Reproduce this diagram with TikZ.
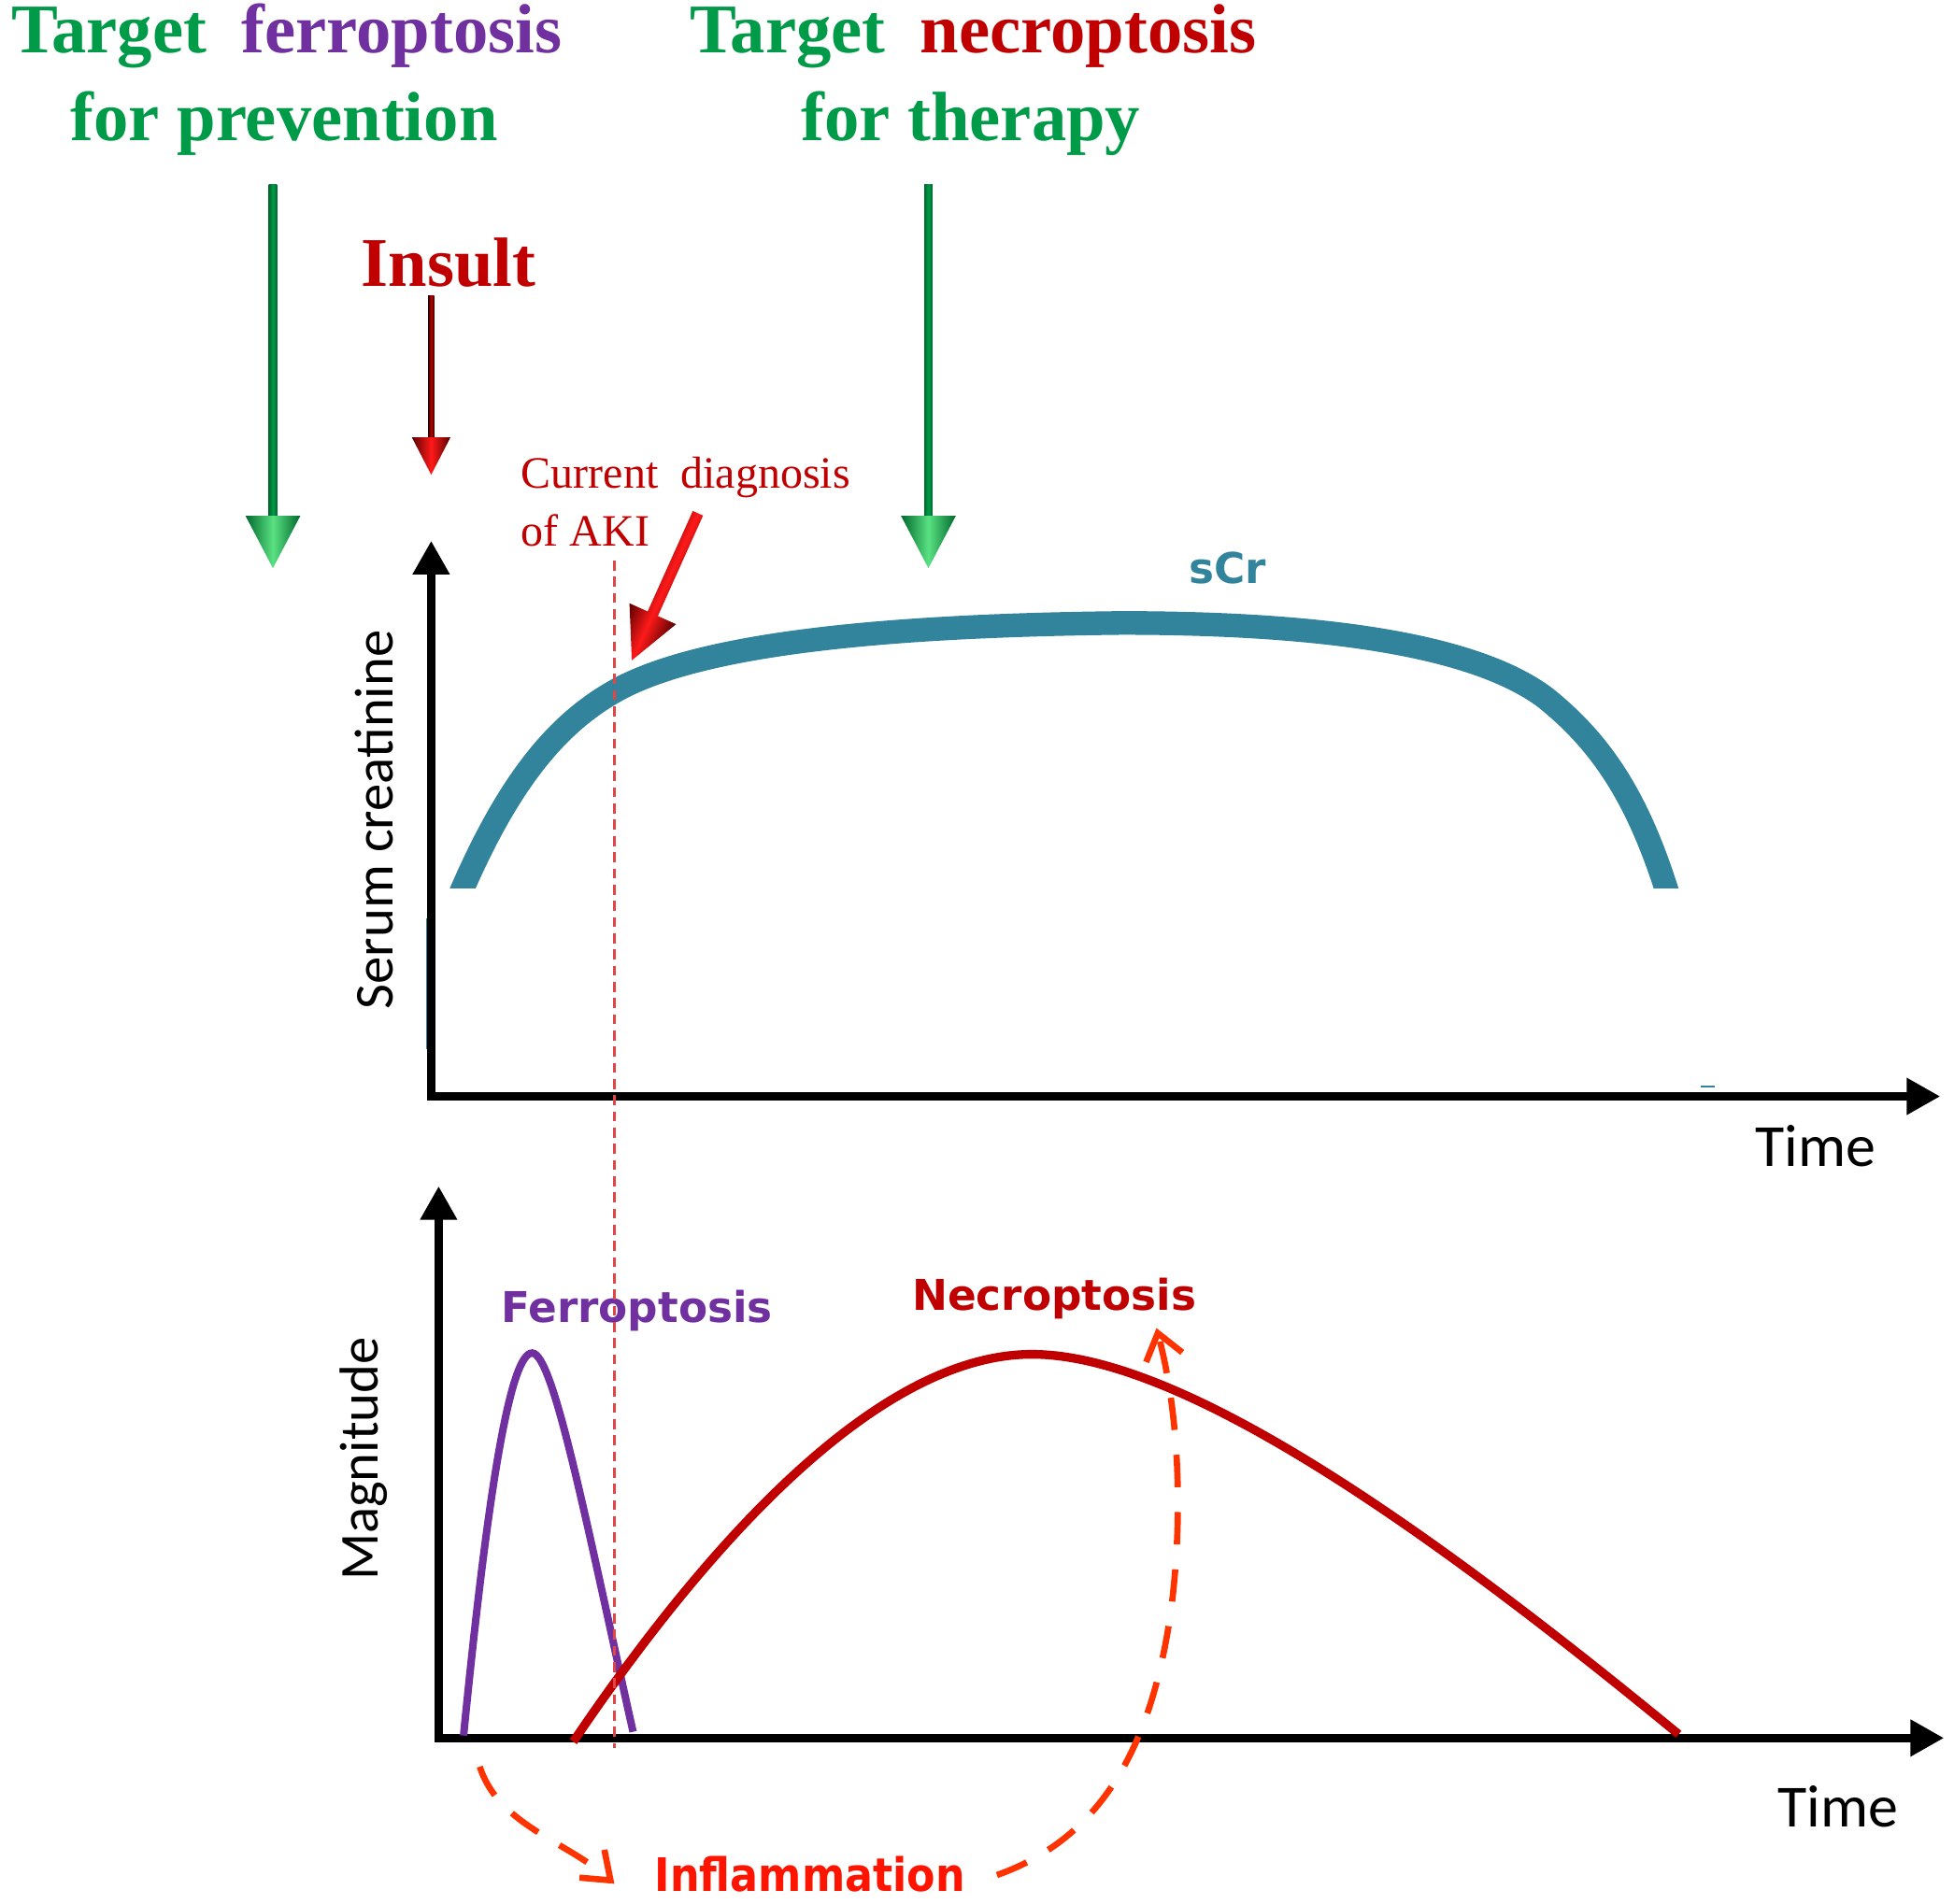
\documentclass[tikz,border=0pt]{standalone}
\usepackage{fontspec}
\setmainfont{Liberation Serif}
\newfontfamily\calib{Carlito}
\newfontfamily\dejavu{DejaVu Sans}
\usetikzlibrary{arrows.meta,calc}
\definecolor{tgreen}{RGB}{0,155,72}
\definecolor{tpurple}{RGB}{112,48,160}
\definecolor{tred}{RGB}{192,0,0}
\definecolor{tealc}{RGB}{49,132,155}
\definecolor{inflam}{RGB}{255,51,0}
\definecolor{inflamtxt}{RGB}{255,20,0}
\definecolor{dgreen}{RGB}{0,105,45}
\definecolor{lgreen}{RGB}{90,225,130}
\definecolor{dline}{RGB}{225,70,70}
\begin{document}
\begin{tikzpicture}[x=0.5pt,y=-0.5pt,
  ttl/.style={font=\fontsize{28}{30}\selectfont\bfseries, inner sep=0pt, anchor=base},
  axislabel/.style={font=\calib\fontsize{22}{24}\selectfont, inner sep=0pt},
  curvelabel/.style={font=\dejavu\bfseries\fontsize{17}{19}\selectfont, inner sep=0pt},
  axisline/.style={line width=3.5pt, line join=miter,
    {Triangle[length=13.5pt,width=14pt]}-{Triangle[length=13.5pt,width=14pt]}},
  inflarrow/.style={draw=inflam, line width=2.5pt, dash pattern=on 13pt off 10pt,
    -{Straight Barb[length=10pt,width=15pt]}},
  dvline/.style={draw=dline, line width=0.9pt, dash pattern=on 4pt off 2.5pt},
  gshade/.style={left color=dgreen, right color=dgreen, middle color=lgreen},
  gshaft/.style={left color=dgreen, right color=dgreen, middle color=tgreen},
  rshade/.style={left color=black!55!tred, right color=black!55!tred, middle color=red!90!white}
]
\useasboundingbox (0,0) rectangle (1568,1528);
\fill[white] (0,0) rectangle (1568,1528);

% ---- titles ----
\node[ttl, text=tgreen] (t1) at (230,42) {Target~~\textcolor{tpurple}{ferroptosis}};
\node[ttl, text=tgreen] (t2) at (228,113) {for prevention};
\node[ttl, text=tgreen] (t3) at (781,42) {Target~~\textcolor{tred}{necroptosis}};
\node[ttl, text=tgreen] (t4) at (779,113) {for therapy};
\node[ttl, text=tred] (insult) at (360,230) {Insult};
\node[font=\fontsize{18}{20}\selectfont, text=tred, anchor=base west, inner sep=0pt] (cd1) at (418,392) {Current~~diagnosis};
\node[font=\fontsize{18}{20}\selectfont, text=tred, anchor=base west, inner sep=0pt] (cd2) at (418,438) {of AKI};

% ---- green arrows ----
\coordinate (g1s) at (219,148);
\coordinate (g1b) at (219,414);
\coordinate (g1t) at (219,456);
\shade[gshaft] ($(g1s)+(-3.3,0)$) rectangle ($(g1b)+(3.3,2)$);
\shade[gshade] ($(g1b)+(-22,0)$) -- ($(g1b)+(22,0)$) -- (g1t) -- cycle;
\coordinate (g2s) at (745,148);
\coordinate (g2b) at (745,414);
\coordinate (g2t) at (745,456);
\shade[gshaft] ($(g2s)+(-3.3,0)$) rectangle ($(g2b)+(3.3,2)$);
\shade[gshade] ($(g2b)+(-22,0)$) -- ($(g2b)+(22,0)$) -- (g2t) -- cycle;

% ---- insult arrow ----
\coordinate (ins) at (346,237);
\coordinate (inb) at (346,351);
\coordinate (int) at (346,381);
\shade[left color=black!80!tred, right color=black!80!tred, middle color=tred] ($(ins)+(-2.5,0)$) rectangle ($(inb)+(2.5,2)$);
\shade[rshade] ($(inb)+(-15.5,0)$) -- ($(inb)+(15.5,0)$) -- (int) -- cycle;

% ---- diagnosis arrow (tail ra1 -> tip ra2) ----
\coordinate (ra1) at (560,412);
\coordinate (ra2) at (507,530);
\begin{scope}[transform canvas={shift={(ra2)}, rotate=-24.2}]
\shade[rshade] (-4.5,-129.4) -- (-4.5,-41) -- (-20.5,-41) -- (0,0) -- (20.5,-41) -- (4.5,-41) -- (4.5,-129.4) -- cycle;
\end{scope}

% ---- top plot ----
\coordinate (o1) at (346,880);
\coordinate (y1) at (346,434);
\coordinate (x1) at (1557,880);
\draw[tealc, line width=2pt] (344,737) -- (344,842);
\draw[tealc, line width=1pt] (1365,872) -- (1376,872);
\draw[axisline] (y1) -- (o1) -- (x1);
\begin{scope}
\clip (300,380) rectangle (1450,713);
\draw[tealc, line width=9.5pt] (360,740) .. controls (400,640) and (440,585) .. (493,555)
  .. controls (563,515) and (720,502) .. (900,500)
  .. controls (1050,500) and (1180,515) .. (1240,560)
  .. controls (1290,600) and (1320,650) .. (1345,740);
\end{scope}
\node[curvelabel, text=tealc] (scr) at (985,456) {sCr};
\node[axislabel, rotate=90] (ylab1) at (300,658) {Serum creatinine};
\node[axislabel, font=\calib\fontsize{24}{26}\selectfont] (time1) at (1457,920) {Time};

% ---- bottom plot ----
\coordinate (o2) at (352,1395);
\coordinate (y2) at (352,952);
\coordinate (x2) at (1560,1395);
\draw[axisline] (y2) -- (o2) -- (x2);
\draw[tpurple, line width=3pt] (372,1393) .. controls (392,1190) and (410,1086) .. (427,1086)
  .. controls (444,1086) and (470,1220) .. (508,1390);
\draw[tred, line width=3.5pt] (460,1398) .. controls (560,1250) and (700,1087) .. (828,1087)
  .. controls (950,1087) and (1150,1230) .. (1347,1392);
\node[curvelabel, text=tpurple] (ferro) at (511,1052) {Ferroptosis};
\node[curvelabel, text=tred] (necro) at (846,1042) {Necroptosis};
\node[axislabel, rotate=90] (ylab2) at (292,1171) {Magnitude};
\node[axislabel, font=\calib\fontsize{24}{26}\selectfont] (time2) at (1475,1450) {Time};

% ---- inflammation ----
\node[font=\dejavu\bfseries\fontsize{18.5}{20}\selectfont, xscale=0.9, text=inflamtxt, inner sep=0pt] (infl) at (650,1504) {Inflammation};
\coordinate (i1s) at (385,1418);
\coordinate (i1e) at (493,1512);
\draw[inflarrow] (i1s) .. controls (400,1465) and (455,1478) .. (i1e);
\coordinate (i2s) at (800,1505);
\coordinate (i2e) at (928,1066);
\draw[inflarrow] (i2s) .. controls (885,1475) and (925,1400) .. (940,1290)
  .. controls (950,1210) and (945,1130) .. (i2e);

% ---- dashed diagnosis line ----
\coordinate (dtop) at (493,450);
\coordinate (dbot) at (493,1403);
\draw[dvline] (dtop) -- (dbot);
\end{tikzpicture}
\end{document}
